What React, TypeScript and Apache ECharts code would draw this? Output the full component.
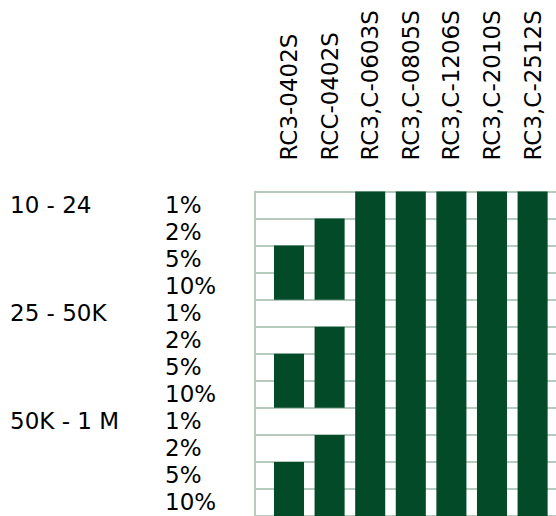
import React, { useEffect, useRef } from "react";
import * as echarts from "echarts";

const products = [
  "RC3-0402S",
  "RCC-0402S",
  "RC3,C-0603S",
  "RC3,C-0805S",
  "RC3,C-1206S",
  "RC3,C-2010S",
  "RC3,C-2512S",
];
const ranges = ["10 - 24", "25 - 50K", "50K - 1 M"];
const tolerances = ["1%", "2%", "5%", "10%"];

// availability per product, row order: range x tolerance (1 = available)
const availRC3_0402 = [0, 0, 1, 1, 0, 0, 1, 1, 0, 0, 1, 1];
const availRCC_0402 = [0, 1, 1, 1, 0, 1, 1, 1, 0, 1, 1, 1];
const availRC3C_0603 = [1, 1, 1, 1, 1, 1, 1, 1, 1, 1, 1, 1];
const availRC3C_0805 = [1, 1, 1, 1, 1, 1, 1, 1, 1, 1, 1, 1];
const availRC3C_1206 = [1, 1, 1, 1, 1, 1, 1, 1, 1, 1, 1, 1];
const availRC3C_2010 = [1, 1, 1, 1, 1, 1, 1, 1, 1, 1, 1, 1];
const availRC3C_2512 = [1, 1, 1, 1, 1, 1, 1, 1, 1, 1, 1, 1];
const availability = [
  availRC3_0402,
  availRCC_0402,
  availRC3C_0603,
  availRC3C_0805,
  availRC3C_1206,
  availRC3C_2010,
  availRC3C_2512,
];

const BAR = "#024a28";
const GRID = "#b6cbbe";
const FONT = "DejaVu Sans";

function buildRuns(): number[][] {
  const runs: number[][] = [];
  availability.forEach((rows, p) => {
    let start = -1;
    for (let i = 0; i <= rows.length; i++) {
      const on = i < rows.length && rows[i] === 1;
      if (on && start < 0) start = i;
      if (!on && start >= 0) {
        runs.push([p, start, i]);
        start = -1;
      }
    }
  });
  return runs;
}

export default function App() {
  const ref = useRef<HTMLDivElement>(null);
  useEffect(() => {
    if (!ref.current) return;
    const chart = echarts.init(ref.current, null, { renderer: "svg" });
    const nRows = ranges.length * tolerances.length;
    const tolLabels = ranges.flatMap(() => tolerances);
    const rangeLabels = ranges.flatMap((r) => tolerances.map((_, i) => (i === 0 ? r : "")));
    const top = 191.5;
    const rowH = 27.27;
    const height = rowH * nRows;
    const textStyle = { fontFamily: FONT, fontSize: 23, color: "#000" };
    chart.setOption({
      animation: false,
      grid: [
        { left: 255, top, width: 301, height },
        { left: 268.7, top, width: 40.6 * products.length, height },
      ],
      xAxis: [
        { gridIndex: 0, type: "value", min: 0, max: 1, show: false },
        {
          gridIndex: 1,
          type: "category",
          position: "top",
          data: products,
          axisLine: { show: false },
          axisTick: { show: false },
          axisLabel: { ...textStyle, rotate: 90, margin: 31, interval: 0 },
        },
      ],
      yAxis: [
        {
          gridIndex: 0,
          type: "value",
          position: "left",
          inverse: true,
          min: 0,
          max: nRows,
          interval: 1,
          axisLabel: { show: false },
          axisTick: { show: false },
          axisLine: { show: true, lineStyle: { color: GRID, width: 2 } },
          splitLine: { show: true, lineStyle: { color: GRID, width: 2 } },
        },
        {
          gridIndex: 0,
          type: "category",
          position: "left",
          offset: 0,
          inverse: true,
          data: tolLabels,
          axisLine: { show: false },
          axisTick: { show: false },
          splitLine: { show: false },
          axisLabel: { ...textStyle, align: "left", margin: 90, interval: 0 },
        },
        {
          gridIndex: 0,
          type: "category",
          position: "left",
          offset: 0,
          inverse: true,
          data: rangeLabels,
          axisLine: { show: false },
          axisTick: { show: false },
          splitLine: { show: false },
          axisLabel: { ...textStyle, align: "left", margin: 245, interval: 0 },
        },
        {
          gridIndex: 1,
          type: "value",
          inverse: true,
          min: 0,
          max: nRows,
          show: false,
          splitLine: { show: false },
        },
      ],
      series: [
        {
          type: "custom",
          xAxisIndex: 1,
          yAxisIndex: 3,
          encode: { x: 0, y: [1, 2] },
          data: buildRuns(),
          renderItem: (params: any, api: any) => {
            const p = api.value(0);
            const s = api.value(1);
            const e = api.value(2);
            const a = api.coord([p, s]);
            const b = api.coord([p, e]);
            const w = api.size([1, 0])[0] * 0.74;
            return {
              type: "rect",
              shape: { x: a[0] - w / 2, y: a[1], width: w, height: b[1] - a[1] },
              style: { fill: BAR },
            };
          },
        },
      ],
    });
    return () => chart.dispose();
  }, []);
  return (
    <div
      ref={ref}
      style={{ position: "fixed", left: 0, top: 0, width: 556, height: 516, background: "#fff" }}
    />
  );
}
